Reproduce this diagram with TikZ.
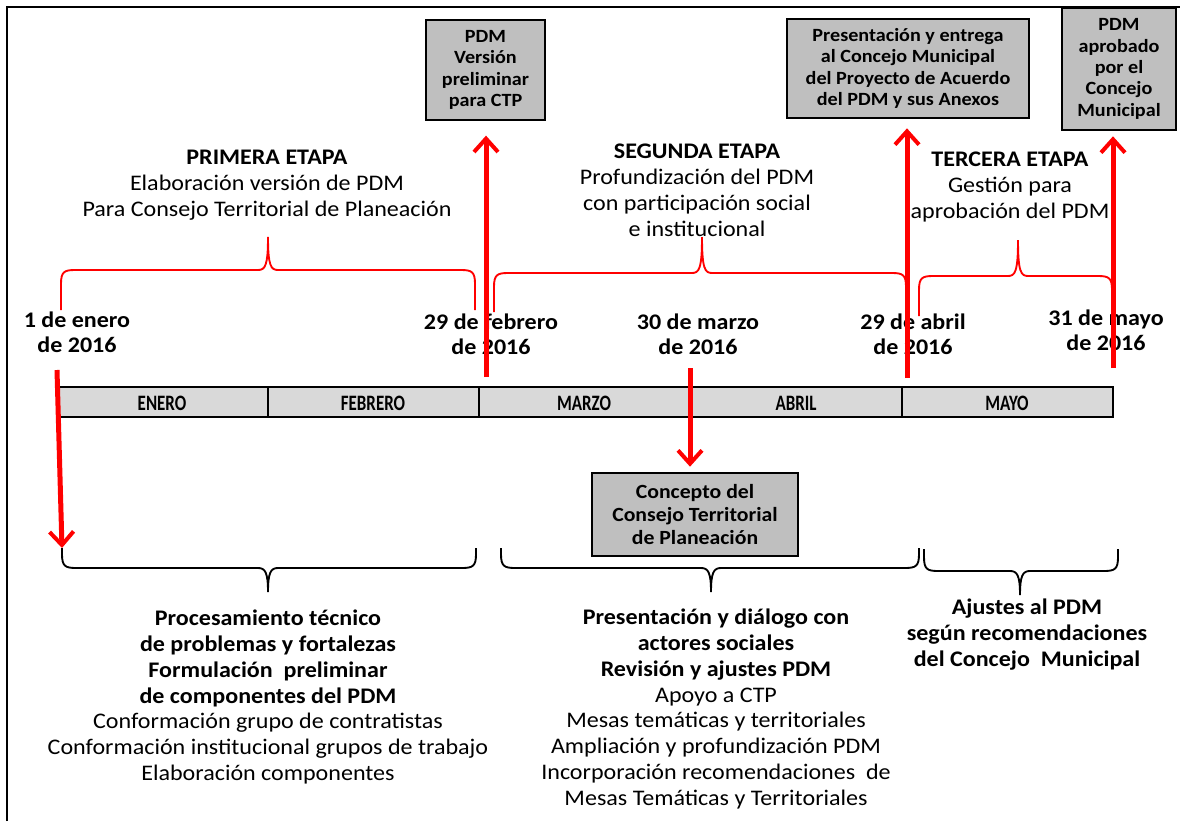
\documentclass[tikz,border=0pt]{standalone}
\usepackage{fontspec}
\setmainfont{Carlito}[FakeStretch=1.08]
\newfontfamily\condfont[FakeStretch=0.77]{Carlito}
\usetikzlibrary{arrows.meta,calc}
\definecolor{boxgray}{RGB}{191,191,191}
\definecolor{bargray}{RGB}{217,217,217}
\newcommand\upbrace[6]{(#1,#6) -- (#1,#4+14) .. controls (#1,#4+2) and (#1+3,#4) .. (#1+14,#4) -- (#3-10,#4) .. controls (#3-3,#4) and (#3,#4-4) .. (#3,#5) .. controls (#3,#4-4) and (#3+3,#4) .. (#3+10,#4) -- (#2-14,#4) .. controls (#2-3,#4) and (#2,#4+2) .. (#2,#4+14) -- (#2,#6)}
\newcommand\downbrace[6]{(#1,#6) -- (#1,#4-14) .. controls (#1,#4-2) and (#1+3,#4) .. (#1+14,#4) -- (#3-10,#4) .. controls (#3-3,#4) and (#3,#4+4) .. (#3,#5) .. controls (#3,#4+4) and (#3+3,#4) .. (#3+10,#4) -- (#2-14,#4) .. controls (#2-3,#4) and (#2,#4-2) .. (#2,#4-14) -- (#2,#6)}
\begin{document}
\begin{tikzpicture}[x=0.75pt,y=-0.75pt,
  greybox/.style={draw=black, line width=1.5pt, fill=boxgray, align=center, inner sep=0pt,
    font=\bfseries\fontsize{14}{16}\selectfont},
  month/.style={font=\condfont\bfseries\fontsize{16.5}{18}\selectfont, inner sep=0pt},
  datelbl/.style={align=center, font=\bfseries\fontsize{16.7}{18.75}\selectfont, inner sep=0pt},
  stagelbl/.style={align=center, font=\fontsize{16.7}{19.4}\selectfont, inner sep=0pt},
  bodytxt/.style={align=center, font=\fontsize{16.7}{19.3}\selectfont, inner sep=0pt},
  redarrow/.style={draw=red, line width=3.75pt, -{Straight Barb[length=10pt,width=18pt,line width=3pt]}},
  redbrace/.style={draw=red, line width=1.4pt},
  blackbrace/.style={draw=black, line width=1.4pt}]
\useasboundingbox (0,0) rectangle (1180,821);
\fill[white] (0,0) rectangle (1180,821);
% frame
\draw[line width=1.6pt] (7,821) -- (7,7) -- (1180,7);

% boxes
\node[greybox, minimum width=89.25pt, minimum height=75pt] (b1) at (485.5,70) {PDM\\Versión\\preliminar\\para CTP};
\node[greybox, minimum width=181.5pt, minimum height=74.25pt] (b2) at (908,68.5) {Presentación y entrega\\al Concejo Municipal\\del Proyecto de Acuerdo\\del PDM y sus Anexos};
\node[greybox, minimum width=85.5pt, minimum height=91.5pt] (b3) at (1119,69) {PDM\\aprobado\\por el\\Concejo\\Municipal};
\node[greybox, minimum width=154.5pt, minimum height=62.25pt, font=\bfseries\fontsize{15.1}{17.25}\selectfont] (b4) at (695,514.5) {Concepto del\\Consejo Territorial\\de Planeación};

% stage titles
\node[stagelbl] (s1) at (267,185) {\textbf{PRIMERA ETAPA}\\Elaboración versión de PDM\\Para Consejo Territorial de Planeación};
\node[stagelbl] (s2) at (697,190.5) {\textbf{SEGUNDA ETAPA}\\Profundización del PDM\\con participación social\\e institucional};
\node[stagelbl] (s3) at (1010,187) {\textbf{TERCERA ETAPA}\\Gestión para\\aprobación del PDM};

% top braces
\draw[redbrace] \upbrace{61}{475}{268}{270}{237}{310};
\draw[redbrace] \upbrace{494}{906}{702}{273}{237}{312};
\draw[redbrace] \upbrace{919}{1112}{1018}{276}{240}{316};

% dates
\node[datelbl] (d1) at (77,332.5) {1 de enero\\de 2016};
\node[datelbl] (d2) at (491,334.5) {29 de febrero\\de 2016};
\node[datelbl] (d3) at (698,334.5) {30 de marzo\\de 2016};
\node[datelbl] (d4) at (913,334.5) {29 de abril\\de 2016};
\node[datelbl] (d5) at (1106,330.5) {31 de mayo\\de 2016};

% timeline bar
\draw[fill=bargray, line width=1.2pt] (58,387) rectangle (1113,417);
\draw[line width=1pt] (268,387) -- (268,417);
\draw[line width=1pt] (479,387) -- (479,417);
\draw[line width=1pt] (902,387) -- (902,417);
\node[month] (m1) at (162,403) {ENERO};
\node[month] (m2) at (373,403) {FEBRERO};
\node[month] (m3) at (584,403) {MARZO};
\node[month] (m4) at (796,403) {ABRIL};
\node[month] (m5) at (1007,403) {MAYO};

% bottom braces
\draw[blackbrace] \downbrace{62}{476}{268}{568}{592}{548};
\draw[blackbrace] \downbrace{501}{919}{711}{568}{592}{548};
\draw[blackbrace] \downbrace{924}{1118}{1020}{571}{595}{549};

% bottom texts
\node[bodytxt] (t1) at (268,697) {\textbf{Procesamiento técnico}\\\textbf{de problemas y fortalezas}\\\textbf{Formulación\ \ preliminar}\\\textbf{de componentes del PDM}\\Conformación grupo de contratistas\\Conformación institucional grupos de trabajo\\Elaboración componentes};
\node[bodytxt] (t2) at (716,709) {\textbf{Presentación y diálogo con}\\\textbf{actores sociales}\\\textbf{Revisión y ajustes PDM}\\Apoyo a CTP\\Mesas temáticas y territoriales\\Ampliación y profundización PDM\\Incorporación recomendaciones\ \ de\\Mesas Temáticas y Territoriales};
\node[bodytxt, font=\bfseries\fontsize{16.7}{19.3}\selectfont] (t3) at (1027,634.5) {Ajustes al PDM\\según recomendaciones\\del Concejo\ \ Municipal};

% red arrows
\coordinate (a1s) at (57,370);
\coordinate (bb1l) at (62,548);
\coordinate (a2s) at (486,377);
\coordinate (a3s) at (690,368);
\coordinate (a4s) at (907,378);
\coordinate (a5s) at (1113,368);
\draw[redarrow] (a1s) -- (bb1l);
\draw[redarrow, shorten >=11pt] (a2s) -- (a2s |- b1.south);
\draw[redarrow, shorten >=4pt] (a3s) -- (a3s |- b4.north);
\draw[redarrow, shorten >=7pt] (a4s) -- (a4s |- b2.south);
\draw[redarrow, shorten >=4pt] (a5s) -- (a5s |- b3.south);
\end{tikzpicture}
\end{document}
